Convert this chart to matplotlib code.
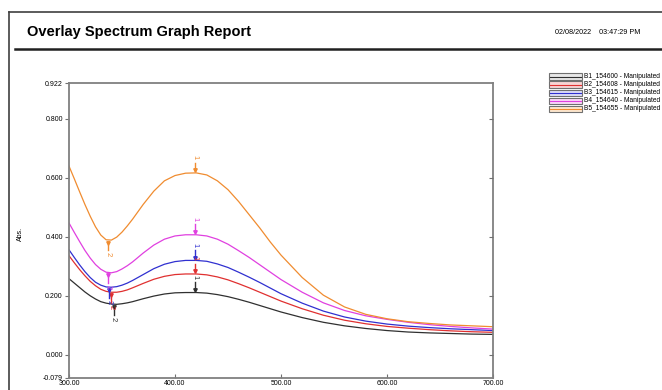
import numpy as np
import matplotlib.pyplot as plt
from matplotlib.lines import Line2D
from matplotlib.patches import Rectangle

plt.rcParams['font.family'] = ['Liberation Sans', 'DejaVu Sans']

# wavelength grid (nm)
wl = [300, 305, 310, 315, 320, 325, 330, 335, 340, 345, 350, 355, 360,
      370, 380, 390, 400, 410, 420, 430, 440, 450, 460, 470, 480, 490, 500,
      520, 540, 560, 580, 600, 620, 640, 660, 680, 700]

b1 = [0.258, 0.243, 0.228, 0.213, 0.200, 0.189, 0.180, 0.175, 0.172, 0.171, 0.173, 0.176, 0.180,
      0.190, 0.199, 0.206, 0.210, 0.211, 0.211, 0.209, 0.204, 0.197, 0.188, 0.178, 0.167, 0.156, 0.145,
      0.126, 0.110, 0.098, 0.089, 0.082, 0.077, 0.074, 0.072, 0.070, 0.069]
b2 = [0.336, 0.312, 0.289, 0.268, 0.249, 0.234, 0.222, 0.215, 0.212, 0.212, 0.215, 0.220, 0.227,
      0.242, 0.256, 0.266, 0.272, 0.274, 0.274, 0.271, 0.264, 0.254, 0.241, 0.227, 0.212, 0.197, 0.182,
      0.156, 0.134, 0.117, 0.105, 0.096, 0.090, 0.085, 0.081, 0.078, 0.076]
b3 = [0.356, 0.330, 0.305, 0.282, 0.262, 0.246, 0.236, 0.230, 0.229, 0.231, 0.236, 0.243, 0.252,
      0.272, 0.292, 0.307, 0.316, 0.320, 0.320, 0.317, 0.308, 0.296, 0.280, 0.263, 0.245, 0.226, 0.207,
      0.175, 0.148, 0.128, 0.114, 0.104, 0.097, 0.092, 0.088, 0.085, 0.082]
b4 = [0.447, 0.415, 0.384, 0.354, 0.328, 0.306, 0.290, 0.280, 0.278, 0.282, 0.291, 0.302, 0.315,
      0.345, 0.372, 0.392, 0.403, 0.407, 0.407, 0.403, 0.392, 0.375, 0.353, 0.330, 0.305, 0.280, 0.255,
      0.212, 0.176, 0.150, 0.132, 0.120, 0.110, 0.102, 0.096, 0.091, 0.087]
b5 = [0.640, 0.597, 0.553, 0.510, 0.470, 0.434, 0.406, 0.390, 0.389, 0.399, 0.416, 0.437, 0.460,
      0.510, 0.555, 0.590, 0.608, 0.616, 0.617, 0.610, 0.590, 0.560, 0.520, 0.475, 0.430, 0.382, 0.338,
      0.262, 0.202, 0.162, 0.137, 0.122, 0.112, 0.106, 0.101, 0.098, 0.095]

names = ['B1_154600 - Manipulated', 'B2_154608 - Manipulated', 'B3_154615 - Manipulated',
         'B4_154640 - Manipulated', 'B5_154655 - Manipulated']
colors = ['#303030', '#e03030', '#3030d0', '#e040e0', '#f08c30']
light = ['#e8e8e8', '#f8d4d4', '#dcdcf8', '#fad8fa', '#fde8d0']

# peak (1) and valley (2) picks: wavelength, abs
peaks_x = [419, 419, 419, 419, 419]
peaks_y = [0.211, 0.274, 0.320, 0.407, 0.617]
valley_x = [342, 340, 338, 337, 337]
valley_y = [0.171, 0.212, 0.229, 0.278, 0.389]

yticks = [-0.079, 0.0, 0.2, 0.4, 0.6, 0.8, 0.922]
xticks = [300, 400, 500, 600, 700]

W, H = 662, 390
fig = plt.figure(figsize=(W / 100, H / 100), dpi=100)

# report frame
fig.add_artist(Line2D([9/W, 9/W], [0, 1 - 12/H], color='#404040', lw=1.2))
fig.add_artist(Line2D([9/W, 1], [1 - 12/H, 1 - 12/H], color='#404040', lw=1.2))
fig.add_artist(Line2D([15/W, 1], [1 - 49/H, 1 - 49/H], color='#202020', lw=1.8))
fig.text(27/W, 1 - 32/H, 'Overlay Spectrum Graph Report', fontsize=10.5,
         fontweight='bold', va='center', ha='left')
fig.text(555/W, 1 - 33/H, '02/08/2022    03:47:29 PM', fontsize=5.2,
         va='center', ha='left')

ax = fig.add_axes([69/W, 1 - 378/H, 424/W, 295/H])
series = [b1, b2, b3, b4, b5]
for s, c in zip(series, colors):
    ax.plot(wl, s, color=c, lw=0.9)

# peak / valley markers
for i in range(5):
    c = colors[i]
    ax.plot([peaks_x[i], peaks_x[i]], [peaks_y[i] + 0.008, peaks_y[i] + 0.035], color=c, lw=1.0)
    ax.plot(peaks_x[i], peaks_y[i] + 0.009, marker='v', ms=2.5, color=c)
    ax.text(peaks_x[i], peaks_y[i] + 0.045, '1', rotation=-90, fontsize=5.5,
            color=c, ha='center', va='bottom')
    ax.plot([valley_x[i], valley_x[i]], [valley_y[i] - 0.008, valley_y[i] - 0.035], color=c, lw=1.0)
    ax.plot(valley_x[i], valley_y[i] - 0.009, marker='v', ms=2.5, color=c)
    ax.text(valley_x[i], valley_y[i] - 0.042, '2', rotation=-90, fontsize=5.5,
            color=c, ha='center', va='top')

ax.set_xlim(300, 700)
ax.set_ylim(-0.079, 0.922)
ax.set_xticks(xticks)
ax.set_xticklabels(['%.2f' % v for v in xticks])
ax.set_yticks(yticks)
ax.set_yticklabels(['%.3f' % v for v in yticks])
ax.tick_params(axis='both', labelsize=5, length=3, color='#707070', width=0.8, pad=1.5)
ax.tick_params(axis='x', direction='in')
ax.tick_params(axis='y', direction='out')
for sp in ax.spines.values():
    sp.set_color('#808080')
    sp.set_linewidth(1.3)
ax.set_ylabel('Abs.', fontsize=5)
ax.yaxis.set_label_coords(-0.105, 0.49)

# inward ticks on the right spine
ax2 = ax.twinx()
ax2.set_ylim(-0.079, 0.922)
ax2.set_yticks([0.0, 0.2, 0.4, 0.6, 0.8])
ax2.tick_params(axis='y', direction='in', length=3, color='#707070', width=0.8,
                labelright=False)
for sp in ax2.spines.values():
    sp.set_visible(False)

# legend: outlined swatch with the trace colour through it
for i, (name, c, l) in enumerate(zip(names, colors, light)):
    yc = 76.5 + 8.1 * i
    fig.add_artist(Rectangle((549/W, 1 - (yc + 3.2)/H), 33/W, 6.4/H,
                             facecolor=l, edgecolor='#707070', lw=0.8))
    fig.add_artist(Line2D([550/W, 581/W], [1 - yc/H, 1 - yc/H], color=c, lw=0.8))
    fig.text(583.5/W, 1 - yc/H, name, fontsize=4.8, va='center', ha='left')

fig.savefig('out.png', dpi=100)
